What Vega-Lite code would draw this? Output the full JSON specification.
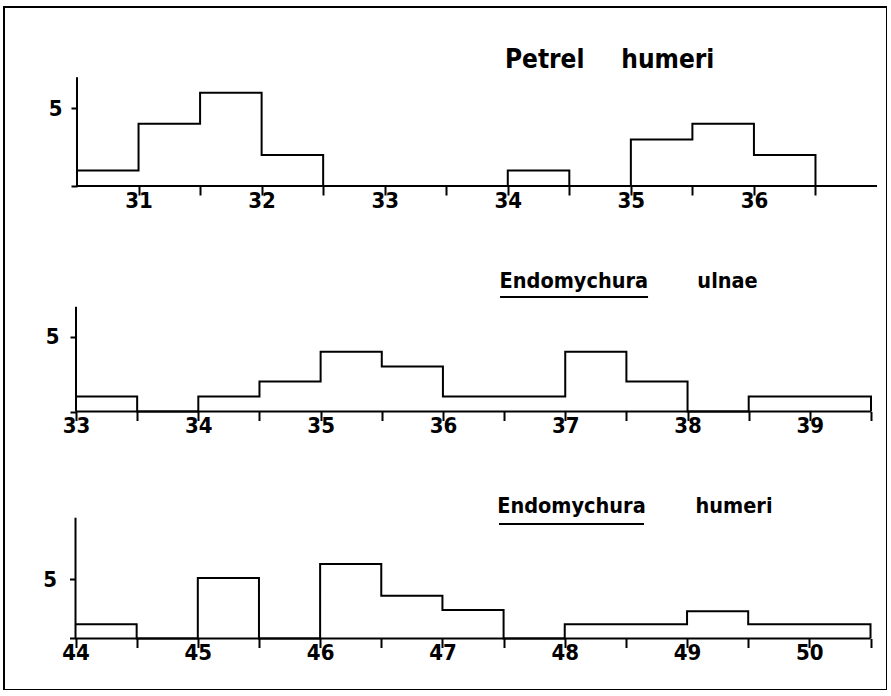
{
  "$schema": "https://vega.github.io/schema/vega-lite/v6.json",
  "width": 883,
  "height": 683,
  "autosize": "none",
  "padding": {"left": 4, "top": 7, "right": 0, "bottom": 0},
  "background": "white",
  "config": {
    "view": {"stroke": "black", "strokeWidth": 2},
    "axis": {
      "grid": false,
      "domain": false,
      "tickColor": "black",
      "tickWidth": 2,
      "labelColor": "black",
      "labelFont": "DejaVu Sans Condensed, Liberation Sans Narrow, Liberation Sans, sans-serif",
      "labelFontWeight": "bold",
      "labelFontSize": 22,
      "labelOverlap": false,
      "labelFlush": false,
      "labelBound": false,
      "title": null
    },
    "text": {"font": "DejaVu Sans Condensed, Liberation Sans Narrow, Liberation Sans, sans-serif", "fontWeight": "bold", "color": "black"}
  },
  "datasets": {
    "petrel_humeri": [
      {"bin": 30.5, "count": 1}, {"bin": 31, "count": 4}, {"bin": 31.5, "count": 6}, {"bin": 32, "count": 2},
      {"bin": 32.5, "count": 0}, {"bin": 33, "count": 0}, {"bin": 33.5, "count": 0}, {"bin": 34, "count": 1},
      {"bin": 34.5, "count": 0}, {"bin": 35, "count": 3}, {"bin": 35.5, "count": 4}, {"bin": 36, "count": 2},
      {"bin": 36.5, "count": 0}
    ],
    "endomychura_ulnae": [
      {"bin": 33, "count": 1}, {"bin": 33.5, "count": 0}, {"bin": 34, "count": 1}, {"bin": 34.5, "count": 2},
      {"bin": 35, "count": 4}, {"bin": 35.5, "count": 3}, {"bin": 36, "count": 1}, {"bin": 36.5, "count": 1},
      {"bin": 37, "count": 4}, {"bin": 37.5, "count": 2}, {"bin": 38, "count": 0}, {"bin": 38.5, "count": 1},
      {"bin": 39, "count": 1}, {"bin": 39.5, "count": 0}
    ],
    "endomychura_humeri": [
      {"bin": 44, "count": 1.2}, {"bin": 44.5, "count": 0}, {"bin": 45, "count": 5.1}, {"bin": 45.5, "count": 0},
      {"bin": 46, "count": 6.3}, {"bin": 46.5, "count": 3.6}, {"bin": 47, "count": 2.4}, {"bin": 47.5, "count": 0},
      {"bin": 48, "count": 1.2}, {"bin": 48.5, "count": 1.2}, {"bin": 49, "count": 2.3}, {"bin": 49.5, "count": 1.2},
      {"bin": 50, "count": 1.2}, {"bin": 50.5, "count": 0}
    ]
  },
  "layer": [
    {
      "data": {"name": "petrel_humeri"},
      "encoding": {
        "x": {"field": "bin", "type": "quantitative",
          "scale": {"domain": [29.9069, 37.0811], "nice": false, "zero": false},
          "axis": {"orient": "bottom", "offset": -504, "values": [31, 31.5, 32, 32.5, 33, 33.5, 34, 34.5, 35, 35.5, 36, 36.5],
            "tickSize": 9, "labelPadding": -5, "labelExpr": "datum.value % 1 == 0 ? format(datum.value, 'd') : ''"}},
        "y": {"field": "count", "type": "quantitative",
          "scale": {"domain": [-32.432, 11.519], "nice": false, "zero": false},
          "axis": {"orient": "left", "offset": -73, "values": [0, 5], "tickSize": 6, "labelPadding": 9,
            "labelExpr": "datum.value == 5 ? '5' : ''"}}
      },
      "layer": [
        {"mark": {"type": "line", "interpolate": "step-after", "color": "black", "strokeWidth": 2}},
        {"transform": [{"filter": "datum.bin == 30.5"}], "mark": {"type": "rule", "color": "black", "strokeWidth": 2},
          "encoding": {"x": {"datum": 30.5}, "x2": {"datum": 37}, "y": {"datum": 0}}},
        {"transform": [{"filter": "datum.bin == 30.5"}], "mark": {"type": "rule", "color": "black", "strokeWidth": 2},
          "encoding": {"x": {"datum": 30.5}, "y": {"datum": 0}, "y2": {"datum": 7}}},
        {"transform": [{"filter": "datum.bin == 30.5"}], "mark": {"type": "text", "text": "Petrel", "fontSize": 26, "align": "center", "baseline": "alphabetic"},
          "encoding": {"x": {"datum": 34.3}, "y": {"datum": 7.6}}},
        {"transform": [{"filter": "datum.bin == 30.5"}], "mark": {"type": "text", "text": "humeri", "fontSize": 26, "align": "center", "baseline": "alphabetic"},
          "encoding": {"x": {"datum": 35.3}, "y": {"datum": 7.6}}}
      ]
    },
    {
      "data": {"name": "endomychura_ulnae"},
      "encoding": {
        "x": {"field": "bin", "type": "quantitative",
          "scale": {"domain": [32.4113, 39.6307], "nice": false, "zero": false},
          "axis": {"orient": "bottom", "offset": -278.5, "values": [33, 33.5, 34, 34.5, 35, 35.5, 36, 36.5, 37, 37.5, 38, 38.5, 39, 39.5],
            "tickSize": 9, "labelPadding": -5, "labelExpr": "datum.value % 1 == 0 ? format(datum.value, 'd') : ''"}},
        "y": {"field": "count", "type": "quantitative",
          "scale": {"domain": [-18.616, 27.039], "nice": false, "zero": false},
          "axis": {"orient": "left", "offset": -72, "values": [0, 5], "tickSize": 6, "labelPadding": 11,
            "labelExpr": "datum.value == 5 ? '5' : ''"}}
      },
      "layer": [
        {"mark": {"type": "line", "interpolate": "step-after", "color": "black", "strokeWidth": 2}},
        {"transform": [{"filter": "datum.bin == 33"}], "mark": {"type": "rule", "color": "black", "strokeWidth": 2},
          "encoding": {"x": {"datum": 33}, "x2": {"datum": 39.5}, "y": {"datum": 0}}},
        {"transform": [{"filter": "datum.bin == 33"}], "mark": {"type": "rule", "color": "black", "strokeWidth": 2},
          "encoding": {"x": {"datum": 33}, "y": {"datum": 0}, "y2": {"datum": 7}}},
        {"transform": [{"filter": "datum.bin == 33"}], "mark": {"type": "text", "text": "Endomychura", "fontSize": 21.5, "align": "center", "baseline": "alphabetic"},
          "encoding": {"x": {"datum": 37.07}, "y": {"datum": 8.26}}},
        {"transform": [{"filter": "datum.bin == 33"}], "mark": {"type": "text", "text": "ulnae", "fontSize": 21.5, "align": "center", "baseline": "alphabetic"},
          "encoding": {"x": {"datum": 38.327}, "y": {"datum": 8.26}}},
        {"transform": [{"filter": "datum.bin == 33"}], "mark": {"type": "rule", "color": "black", "strokeWidth": 2},
          "encoding": {"x": {"datum": 36.467}, "x2": {"datum": 37.677}, "y": {"datum": 7.65}}}
      ]
    },
    {
      "data": {"name": "endomychura_humeri"},
      "encoding": {
        "x": {"field": "bin", "type": "quantitative",
          "scale": {"domain": [43.4154, 50.6348], "nice": false, "zero": false},
          "axis": {"orient": "bottom", "offset": -51.5, "values": [44, 44.5, 45, 45.5, 46, 46.5, 47, 47.5, 48, 48.5, 49, 49.5, 50, 50.5],
            "tickSize": 9, "labelPadding": -5, "labelExpr": "datum.value % 1 == 0 ? format(datum.value, 'd') : ''"}},
        "y": {"field": "count", "type": "quantitative",
          "scale": {"domain": [-4.35, 53.336], "nice": false, "zero": false},
          "axis": {"orient": "left", "offset": -71.5, "values": [0, 5], "tickSize": 6, "labelPadding": 13,
            "labelExpr": "datum.value == 5 ? '5' : ''"}}
      },
      "layer": [
        {"mark": {"type": "line", "interpolate": "step-after", "color": "black", "strokeWidth": 2}},
        {"transform": [{"filter": "datum.bin == 44"}], "mark": {"type": "rule", "color": "black", "strokeWidth": 2},
          "encoding": {"x": {"datum": 44}, "x2": {"datum": 50.5}, "y": {"datum": 0}}},
        {"transform": [{"filter": "datum.bin == 44"}], "mark": {"type": "rule", "color": "black", "strokeWidth": 2},
          "encoding": {"x": {"datum": 44}, "y": {"datum": 0}, "y2": {"datum": 10.2}}},
        {"transform": [{"filter": "datum.bin == 44"}], "mark": {"type": "text", "text": "Endomychura", "fontSize": 21.5, "align": "center", "baseline": "alphabetic"},
          "encoding": {"x": {"datum": 48.055}, "y": {"datum": 10.6}}},
        {"transform": [{"filter": "datum.bin == 44"}], "mark": {"type": "text", "text": "humeri", "fontSize": 21.5, "align": "center", "baseline": "alphabetic"},
          "encoding": {"x": {"datum": 49.384}, "y": {"datum": 10.6}}},
        {"transform": [{"filter": "datum.bin == 44"}], "mark": {"type": "rule", "color": "black", "strokeWidth": 2},
          "encoding": {"x": {"datum": 47.4625}, "x2": {"datum": 48.648}, "y": {"datum": 9.67}}}
      ]
    }
  ],
  "resolve": {
    "scale": {"x": "independent", "y": "independent"},
    "axis": {"x": "independent", "y": "independent"}
  }
}
